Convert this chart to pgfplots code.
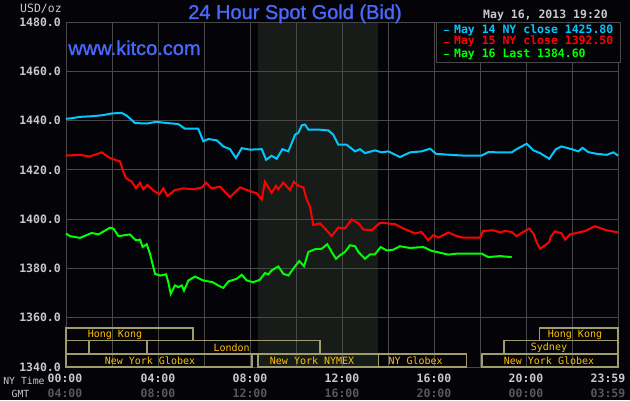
\documentclass[border=0pt]{standalone}
\usepackage{fontspec}
\setmainfont{Liberation Sans}
\newfontfamily\monofam{DejaVu Sans Mono}
\newfontfamily\titlefam[FakeBold=1.2]{Liberation Sans}
\usepackage{pgfplots}
\pgfplotsset{compat=1.18}
\definecolor{bgc}{RGB}{4,4,8}
\definecolor{gridc}{RGB}{72,72,72}
\definecolor{ticktext}{RGB}{200,200,200}
\definecolor{gmtc}{RGB}{88,88,88}
\definecolor{titleblue}{RGB}{72,104,255}
\definecolor{cyanc}{RGB}{0,200,255}
\definecolor{redc}{RGB}{255,0,0}
\definecolor{greenc}{RGB}{0,255,0}
\definecolor{boxc}{RGB}{160,156,108}
\definecolor{sesst}{RGB}{255,192,0}
\definecolor{shadec}{RGB}{24,28,24}
\newcommand\monob{\monofam\bfseries\fontsize{11.5}{12}\selectfont}
\newcommand\monor{\monofam\fontsize{11.5}{12}\selectfont}
\newcommand\mons{\monofam\fontsize{10}{11}\selectfont}
\newcommand\monot{\monofam\fontsize{9.8}{11}\selectfont}
\newcommand\titlef{\titlefam\fontsize{20}{22}\selectfont}
\begin{document}
\begin{tikzpicture}
\begin{axis}[
  at={(66pt,33pt)}, anchor=south west,
  width=552pt, height=345pt, scale only axis,
  xmin=0, xmax=24, ymin=1340, ymax=1480,
  xtick={0,2,...,24}, xticklabels={},
  ytick={1340,1360,...,1480},
  yticklabels={1340.0,1360.0,1380.0,1400.0,1420.0,1440.0,1460.0,1480.0},
  yticklabel style={font=\monob, text=ticktext, inner sep=0pt, xshift=-5pt},
  major tick length=0pt,
  grid=major, grid style={gridc, line width=1pt},
  axis line style={gridc, line width=1pt},
  set layers, clip=false,
  legend style={at={(rel axis cs:0.6703,1)}, anchor=north west, fill=bgc, draw=gridc,
    line width=1pt, font=\monob, inner xsep=7pt, inner ysep=2pt,
    nodes={inner sep=0pt, text height=8.5pt, text depth=3.5pt}, row sep=0pt, column sep=4pt},
  legend cell align=left,
  legend image code/.code={\draw[#1, line width=1.6pt] (0pt,0pt) -- (5pt,0pt);},
]
\begin{pgfonlayer}{axis background}
\fill[bgc] (rel axis cs:-0.11957,-0.09565) rectangle (rel axis cs:1.02174,1.06377);
\fill[shadec] (axis cs:8.33,1340) rectangle (axis cs:13.56,1480);
\end{pgfonlayer}

\addplot[cyanc, line width=2pt] coordinates {
(0,1440.7) (0.3,1441.0) (0.6,1441.5) (1.19,1441.8) (1.6,1442.2) (2.0,1442.9) (2.42,1443.1)
(2.64,1442.0) (3.0,1439.0) (3.51,1438.8) (3.94,1439.5) (4.38,1439.0) (4.88,1438.6) (5.17,1436.7)
(5.75,1436.7) (5.97,1431.6) (6.19,1432.5) (6.55,1432.0) (6.84,1429.5) (7.13,1428.4) (7.39,1424.8)
(7.64,1428.8) (8.0,1428.2) (8.51,1428.4) (8.70,1424.1) (8.94,1425.7) (9.16,1424.5) (9.41,1428.4)
(9.67,1427.5) (9.96,1434.3) (10.1,1435.0) (10.25,1438.1) (10.39,1438.4) (10.54,1436.3) (11.04,1436.3)
(11.41,1436.0) (11.62,1434.3) (11.84,1430.2) (12.20,1430.2) (12.57,1427.5) (12.78,1428.4) (13.0,1426.8)
(13.43,1427.9) (13.72,1427.1) (14.01,1427.5) (14.52,1425.2) (14.96,1427.1) (15.46,1427.5) (15.83,1428.6)
(16.09,1426.5) (16.70,1426.1) (17.27,1425.8) (18.07,1425.8) (18.36,1427.2) (18.87,1427.1) (19.38,1427.1)
(19.59,1428.4) (20.03,1430.6) (20.32,1427.9) (20.61,1426.8) (21.01,1424.5) (21.30,1428.4) (21.55,1429.5)
(22.06,1428.2) (22.27,1427.5) (22.46,1428.9) (22.71,1427.2) (23.07,1426.5) (23.51,1426.1) (23.80,1427.1)
(24.0,1425.8)
};
\addlegendentry{\textcolor{cyanc}{May 14 NY close 1425.80}}

\addplot[redc, line width=2pt] coordinates {
(0,1425.8) (0.6,1426.1) (1.04,1425.4) (1.55,1427.1) (1.91,1424.8) (2.35,1423.4) (2.49,1419.3)
(2.61,1416.6) (2.86,1415.2) (3.04,1412.5) (3.22,1414.8) (3.36,1412.1) (3.54,1413.9) (3.80,1411.6)
(4.06,1410.1) (4.23,1412.5) (4.41,1409.4) (4.74,1411.8) (5.10,1412.5) (5.54,1412.1) (5.90,1412.8)
(6.09,1414.8) (6.33,1412.5) (6.70,1413.2) (7.13,1408.9) (7.57,1412.9) (7.93,1411.6) (8.29,1410.5)
(8.51,1408.0) (8.65,1415.2) (8.94,1410.7) (9.13,1413.5) (9.23,1412.1) (9.45,1414.8) (9.74,1411.8)
(9.91,1415.2) (10.1,1413.5) (10.32,1412.9) (10.47,1407.8) (10.61,1405.0) (10.75,1397.6) (11.04,1398.3)
(11.33,1395.5) (11.55,1393.1) (11.84,1396.6) (12.13,1396.2) (12.42,1399.9) (12.71,1398.3) (12.93,1395.8)
(13.29,1395.5) (13.65,1398.5) (13.94,1398.3) (14.30,1398.0) (14.67,1396.2) (15.17,1394.2) (15.46,1394.8)
(15.75,1391.4) (15.97,1393.5) (16.19,1392.5) (16.62,1394.6) (16.99,1393.1) (17.27,1392.5) (18.0,1392.5)
(18.14,1395.2) (18.58,1395.5) (18.87,1394.6) (19.09,1395.2) (19.38,1394.8) (19.59,1393.1) (19.81,1394.4)
(20.14,1396.2) (20.32,1394.2) (20.46,1390.7) (20.61,1388.0) (20.83,1389.4) (21.01,1390.7) (21.07,1392.8)
(21.26,1395.1) (21.55,1394.2) (21.70,1391.7) (21.91,1393.8) (22.20,1394.4) (22.57,1395.2) (23.0,1397.1)
(23.51,1395.5) (24.0,1394.6)
};
\addlegendentry{\textcolor{redc}{May 15 NY close 1392.50}}

\addplot[greenc, line width=2pt] coordinates {
(0,1394.2) (0.17,1393.1) (0.61,1392.4) (1.12,1394.4) (1.41,1393.8) (1.91,1396.5) (2.06,1396.2)
(2.28,1393.1) (2.78,1393.8) (3.04,1391.4) (3.22,1391.7) (3.33,1388.7) (3.51,1389.8) (3.65,1386.0)
(3.87,1377.8) (4.09,1377.1) (4.35,1377.6) (4.45,1374.4) (4.55,1369.7) (4.74,1373.1) (4.88,1372.4)
(5.03,1373.1) (5.13,1371.0) (5.32,1375.1) (5.61,1376.7) (5.97,1375.1) (6.38,1374.4) (6.62,1373.1)
(6.84,1372.1) (7.06,1374.7) (7.42,1375.8) (7.64,1377.4) (7.86,1375.1) (8.14,1374.4) (8.43,1375.4)
(8.65,1378.1) (8.80,1377.6) (8.94,1379.2) (9.23,1380.8) (9.45,1377.8) (9.67,1377.1) (9.88,1379.9)
(10.14,1383.0) (10.35,1380.9) (10.54,1386.7) (10.83,1387.8) (11.12,1388.0) (11.36,1389.8) (11.55,1386.7)
(11.74,1383.9) (11.91,1385.3) (12.13,1386.7) (12.35,1389.4) (12.57,1389.0) (12.71,1386.7) (13.0,1383.9)
(13.22,1385.7) (13.43,1385.7) (13.68,1388.7) (13.94,1387.3) (14.23,1387.6) (14.52,1389.0) (14.96,1388.3)
(15.54,1388.7) (15.90,1387.1) (16.26,1386.4) (16.62,1385.6) (16.99,1386.0) (18.07,1386.0) (18.36,1384.6)
(18.87,1385.0) (19.38,1384.6)
};
\addlegendentry{\textcolor{greenc}{May 16 Last 1384.60}}

% trading sessions
\begin{scope}[boxc, line width=1.2pt]
\draw (axis cs:0,1350.6) rectangle (axis cs:5.52,1355.8);
\draw (axis cs:20.57,1350.6) rectangle (axis cs:24,1355.8);
\draw (axis cs:0,1345.3) rectangle (axis cs:1.0,1350.6);
\draw (axis cs:1.0,1345.3) rectangle (axis cs:3.52,1350.6);
\draw (axis cs:3.52,1345.3) rectangle (axis cs:11.04,1350.6);
\draw (axis cs:19.04,1345.3) rectangle (axis cs:24,1350.6);
\draw (axis cs:0,1340) rectangle (axis cs:8.09,1345.3);
\draw (axis cs:8.35,1340) rectangle (axis cs:13.57,1345.3);
\draw (axis cs:13.57,1340) rectangle (axis cs:17.43,1345.3);
\draw (axis cs:18.09,1340) rectangle (axis cs:24,1345.3);
\end{scope}
\begin{scope}[every node/.style={font=\mons, text=sesst, inner sep=0pt}]
\node at (axis cs:2.13,1353.2) {Hong Kong};
\node at (axis cs:22.13,1353.2) {Hong Kong};
\node at (axis cs:7.2,1348.0) {London};
\node at (axis cs:21.0,1348.0) {Sydney};
\node at (axis cs:3.65,1342.7) {New York Globex};
\node at (axis cs:10.7,1342.7) {New York NYMEX};
\node at (axis cs:15.2,1342.7) {NY Globex};
\node at (axis cs:21.0,1342.7) {New York Globex};
\end{scope}
\end{axis}

\begin{scope}[x=1pt, y=-1pt, yshift=400pt]
\node[font=\monor, text=ticktext] at (41,9) {USD/oz};
\node[font=\titlef, text=titleblue, anchor=base, inner sep=0pt] at (295,19) {24 Hour Spot Gold (Bid)};
\node[font=\titlef, text=titleblue, anchor=base, inner sep=0pt] at (134.5,55) {www.kitco.com};
\node[font=\monob, text=ticktext, anchor=base, inner sep=0pt] at (545.5,19) {May 16, 2013 19:20};
\begin{scope}[every node/.style={font=\monob, anchor=base, inner sep=0pt}]
\node[text=ticktext] at (65,382) {00:00};
\node[text=ticktext] at (158,382) {04:00};
\node[text=ticktext] at (250,382) {08:00};
\node[text=ticktext] at (342,382) {12:00};
\node[text=ticktext] at (434,382) {16:00};
\node[text=ticktext] at (526,382) {20:00};
\node[text=ticktext] at (608,382) {23:59};
\node[text=gmtc] at (65,397.5) {04:00};
\node[text=gmtc] at (158,397.5) {08:00};
\node[text=gmtc] at (250,397.5) {12:00};
\node[text=gmtc] at (342,397.5) {16:00};
\node[text=gmtc] at (434,397.5) {20:00};
\node[text=gmtc] at (526,397.5) {00:00};
\node[text=gmtc] at (608,397.5) {03:59};
\end{scope}
\node[font=\monot, text=ticktext, anchor=base, inner sep=0pt] at (24,384) {NY Time};
\node[font=\monot, text=ticktext, anchor=base, inner sep=0pt] at (20.5,397) {GMT};
\end{scope}
\pgfresetboundingbox
\useasboundingbox (0,0) rectangle (630pt,400pt);
\end{tikzpicture}
\end{document}
